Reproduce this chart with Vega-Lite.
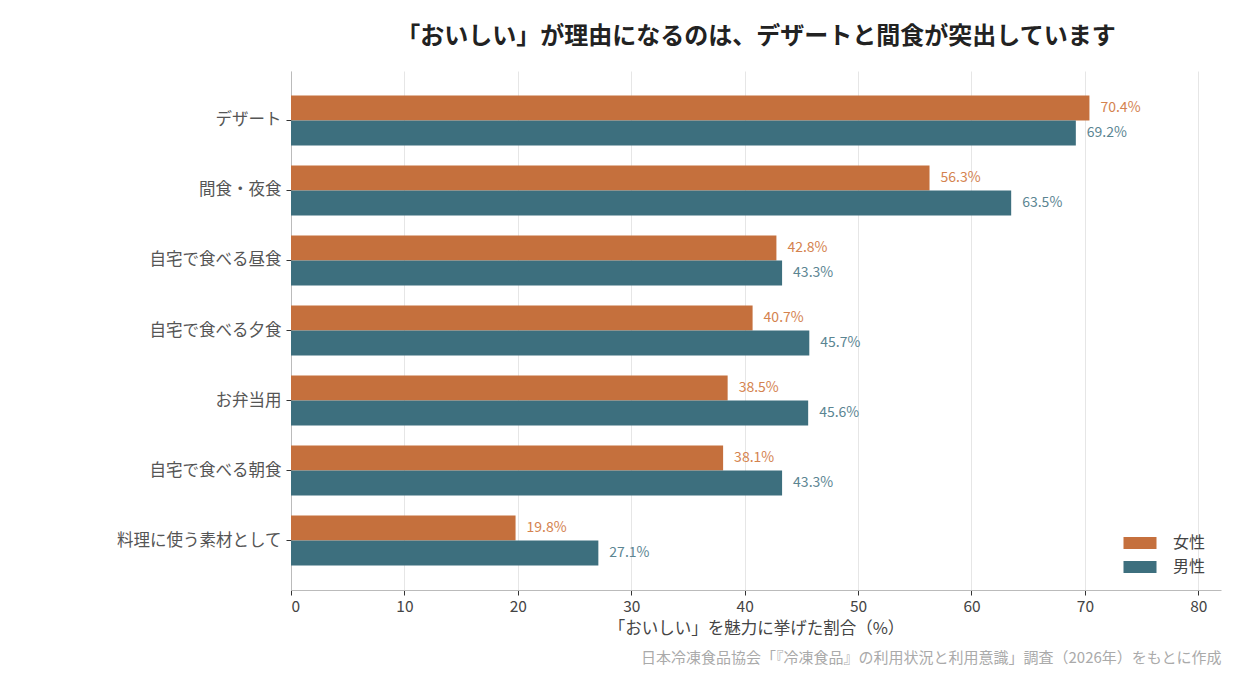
{
  "$schema": "https://vega.github.io/schema/vega-lite/v6.json",
  "autosize": "none",
  "padding": {"left": 291, "top": 71, "right": 19, "bottom": 90},
  "width": 930,
  "height": 519,
  "background": "white",
  "config": {
    "font": "Noto Sans CJK JP",
    "view": {"stroke": null},
    "axis": {"labelFont": "Noto Sans CJK JP", "titleFont": "Noto Sans CJK JP"},
    "legend": {"labelFont": "Noto Sans CJK JP"}
  },
  "title": {
    "text": "「おいしい」が理由になるのは、デザートと間食が突出しています",
    "fontSize": 24,
    "fontWeight": "bold",
    "color": "#222222",
    "anchor": "middle",
    "offset": 22
  },
  "data": {
    "values": [
      {"item": "デザート", "sex": "女性", "pct": 70.4, "label": "70.4%"},
      {"item": "デザート", "sex": "男性", "pct": 69.2, "label": "69.2%"},
      {"item": "間食・夜食", "sex": "女性", "pct": 56.3, "label": "56.3%"},
      {"item": "間食・夜食", "sex": "男性", "pct": 63.5, "label": "63.5%"},
      {"item": "自宅で食べる昼食", "sex": "女性", "pct": 42.8, "label": "42.8%"},
      {"item": "自宅で食べる昼食", "sex": "男性", "pct": 43.3, "label": "43.3%"},
      {"item": "自宅で食べる夕食", "sex": "女性", "pct": 40.7, "label": "40.7%"},
      {"item": "自宅で食べる夕食", "sex": "男性", "pct": 45.7, "label": "45.7%"},
      {"item": "お弁当用", "sex": "女性", "pct": 38.5, "label": "38.5%"},
      {"item": "お弁当用", "sex": "男性", "pct": 45.6, "label": "45.6%"},
      {"item": "自宅で食べる朝食", "sex": "女性", "pct": 38.1, "label": "38.1%"},
      {"item": "自宅で食べる朝食", "sex": "男性", "pct": 43.3, "label": "43.3%"},
      {"item": "料理に使う素材として", "sex": "女性", "pct": 19.8, "label": "19.8%"},
      {"item": "料理に使う素材として", "sex": "男性", "pct": 27.1, "label": "27.1%"}
    ]
  },
  "encoding": {
    "y": {
      "field": "item",
      "type": "nominal",
      "sort": null,
      "title": null,
      "scale": {"paddingInner": 0.286, "paddingOuter": 0.35},
      "axis": {
        "labelFontSize": 16.5,
        "labelColor": "#555555",
        "labelPadding": 5,
        "tickSize": 5,
        "tickColor": "#333333",
        "domainColor": "#bbbbbb",
        "grid": false
      }
    },
    "yOffset": {
      "field": "sex",
      "type": "nominal",
      "sort": ["女性", "男性"]
    }
  },
  "layer": [
    {
      "encoding": {
        "x": {
          "field": "pct",
          "type": "quantitative",
          "scale": {"domain": [0, 82], "nice": false},
          "title": "「おいしい」を魅力に挙げた割合（%）",
          "axis": {
            "orient": "bottom",
            "values": [0, 10, 20, 30, 40, 50, 60, 70, 80],
            "labelFontSize": 15.5,
            "labelColor": "#444444",
            "labelPadding": 4,
            "tickSize": 5,
            "tickColor": "#333333",
            "domainColor": "#bbbbbb",
            "gridColor": "#e6e6e6",
            "titleFontSize": 16.5,
            "titleFontWeight": "normal",
            "titleColor": "#444444",
            "titlePadding": 6
          }
        }
      },
      "layer": [
        {
          "mark": {"type": "bar"},
          "encoding": {
            "color": {
              "field": "sex",
              "type": "nominal",
              "sort": ["女性", "男性"],
              "scale": {"domain": ["女性", "男性"], "range": ["#c5703d", "#3d6f7e"]},
              "legend": {
                "title": null,
                "orient": "bottom-right",
                "offset": 15,
                "symbolType": "M-2.75,-1H2.75V1H-2.75Z",
                "symbolSize": 144,
                "symbolStrokeWidth": 0,
                "symbolOffset": 10,
                "labelFontSize": 16,
                "labelColor": "#444444",
                "labelOffset": 25,
                "rowPadding": 8
              }
            }
          }
        },
        {
          "mark": {"type": "text", "align": "left", "baseline": "middle", "dx": 11, "fontSize": 14},
          "encoding": {
            "text": {"field": "label", "type": "nominal"},
            "color": {
              "field": "sex",
              "type": "nominal",
              "scale": {"domain": ["女性", "男性"], "range": ["#d4834f", "#5b8592"]},
              "legend": null
            }
          }
        }
      ],
      "resolve": {"scale": {"color": "independent"}}
    },
    {
      "mark": {"type": "rule", "opacity": 0},
      "encoding": {
        "x": {
          "field": "pct",
          "type": "quantitative",
          "scale": {"domain": [0, 82], "nice": false},
          "axis": {
            "title": "日本冷凍食品協会「『冷凍食品』の利用状況と利用意識」調査（2026年）をもとに作成",
            "orient": "bottom",
            "domain": false,
            "ticks": false,
            "labels": false,
            "grid": false,
            "titleAnchor": "end",
            "titleFontSize": 15,
            "titleFontWeight": "normal",
            "titleColor": "#aaaaaa",
            "titlePadding": 60
          }
        }
      }
    }
  ],
  "resolve": {"scale": {"x": "independent", "color": "independent"}, "axis": {"x": "independent"}}
}
